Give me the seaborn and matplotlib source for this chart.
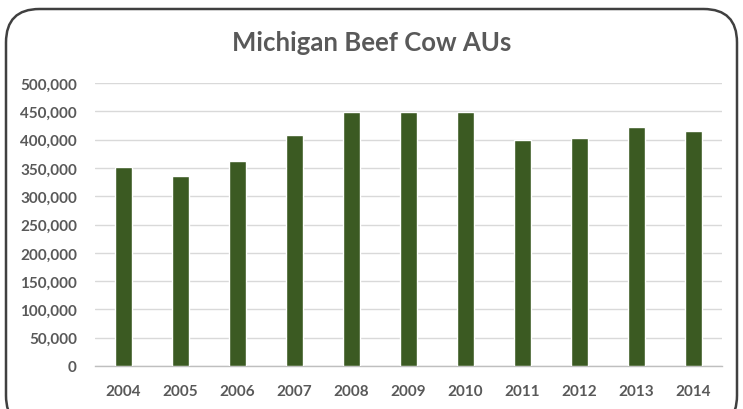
import matplotlib
matplotlib.use("Agg")
import matplotlib.pyplot as plt
from matplotlib.patches import FancyBboxPatch
from matplotlib.ticker import FuncFormatter, MultipleLocator
import seaborn as sns
import pandas as pd

years = ["2004", "2005", "2006", "2007", "2008", "2009", "2010", "2011", "2012", "2013", "2014"]
beef_cow_aus = [352000, 335000, 363000, 409000, 449000, 449000, 449000, 399000, 402000, 423000, 416000]
title = "Michigan Beef Cow AUs"

df = pd.DataFrame({"year": years, "aus": beef_cow_aus})

sns.set_theme(style="white")
plt.rcParams["font.family"] = ["Lato", "DejaVu Sans"]

fig = plt.figure(figsize=(7.43, 4.10), dpi=100)
fig.patch.set_facecolor("white")

# rounded frame
frame = FancyBboxPatch((6 / 743, -20 / 410), 731 / 743, 420 / 410,
                       boxstyle="round,pad=0,rounding_size=0.045",
                       transform=fig.transFigure, facecolor="none",
                       edgecolor="#404040", linewidth=1.8, zorder=10,
                       mutation_aspect=743 / 410)
fig.patches.append(frame)

ax = fig.add_axes([95 / 743, 1 - 367 / 410, 627 / 743, (367 - 84) / 410])
ax.set_facecolor("none")
sns.barplot(data=df, x="year", y="aus", color="#3b5a22", width=0.31,
            saturation=1, ax=ax, zorder=3)

ax.set_ylim(0, 500000)
ax.yaxis.set_major_locator(MultipleLocator(50000))
ax.yaxis.set_major_formatter(FuncFormatter(lambda v, p: f"{int(v):,}"))
ax.grid(axis="y", color="#d9d9d9", linewidth=1.0, zorder=0)
ax.set_axisbelow(True)
for s in ["top", "right", "left"]:
    ax.spines[s].set_visible(False)
ax.spines["bottom"].set_color("#bfbfbf")
ax.spines["bottom"].set_linewidth(1.0)
ax.set_xlabel("")
ax.set_ylabel("")
ax.tick_params(axis="y", length=0, pad=13, labelsize=11, labelcolor="#595959")
ax.tick_params(axis="x", length=0, pad=13, labelsize=11, labelcolor="#595959")
for lab in ax.get_xticklabels() + ax.get_yticklabels():
    lab.set_fontweight("bold")

fig.text(0.5, 1 - 43 / 410, title, ha="center", va="center",
         fontsize=18.5, fontweight="bold", color="#595959")

fig.savefig("out.png", dpi=100, facecolor="white")
